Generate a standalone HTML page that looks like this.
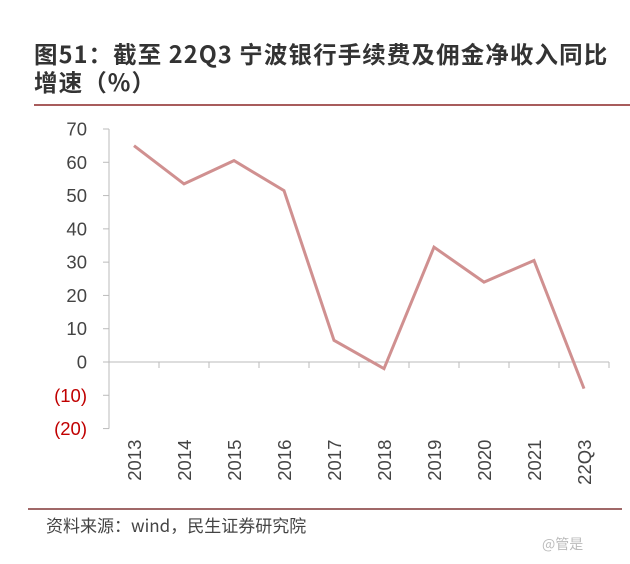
<!DOCTYPE html>
<html><head><meta charset="utf-8"><style>
body{margin:0;background:#fff;width:630px;height:564px;overflow:hidden;font-family:"Liberation Sans","Noto Sans CJK SC",sans-serif}
.t{position:absolute;left:34px;font-size:23.5px;font-weight:bold;color:#333;letter-spacing:1.1px;white-space:nowrap}
</style></head><body>
<div class="t" style="top:36px;font-family:'Noto Sans CJK SC',sans-serif">图51：截至 22Q3 宁波银行手续费及佣金净收入同比</div>
<div class="t" style="top:64px;font-family:'Noto Sans CJK SC',sans-serif">增速（%）</div>
<svg id="c" width="630" height="564" style="position:absolute;left:0;top:0">
<line x1="34" y1="105" x2="630" y2="105" stroke="#a85c5c" stroke-width="2"/>
<line x1="28" y1="509" x2="622" y2="509" stroke="#a06868" stroke-width="2"/>
<text x="46" y="532" font-size="17" fill="#444" font-family="'Noto Sans CJK SC',sans-serif">资料来源：wind，民生证券研究院</text>
<text x="542" y="549" font-size="14" fill="#bbb" font-family="'Noto Sans CJK SC',sans-serif">@管是</text>
</svg>
<script>
const categories=["2013","2014","2015","2016","2017","2018","2019","2020","2021","22Q3"];
const values=[65,53.5,60.5,51.5,6.5,-2,34.5,24,30.5,-8];
const yTicks=[70,60,50,40,30,20,10,0,-10,-20];
const yTickLabels=["70","60","50","40","30","20","10","0","(10)","(20)"];
const svg=document.getElementById('c');const NS='http://www.w3.org/2000/svg';
const L=109,W=500,Y0=362,PX=233/70;
const band=W/categories.length;
const x=i=>L+band*(i+0.5);
const y=v=>Y0-v*PX;
function mk(t,a){const e=document.createElementNS(NS,t);for(const k in a)e.setAttribute(k,a[k]);svg.appendChild(e);return e;}
let ax=mk('line',{x1:L,y1:y(70),x2:L,y2:y(-20),stroke:'#bbb','stroke-width':1});


yTicks.forEach((v,i)=>{
 let tk=mk('line',{x1:L-6,y1:y(v),x2:L,y2:y(v),stroke:'#bbb'});
 
 
 let t=mk('text',{x:L-22,y:y(v)+6.5,'text-anchor':'end','font-size':18.5,fill:v<0?'#c00000':'#444'});
 t.textContent=yTickLabels[i];
 
 
});
let xa=mk('line',{x1:L,y1:y(0),x2:L+W,y2:y(0),stroke:'#bbb'});


for(let i=1;i<=categories.length;i++){
 let tk=mk('line',{x1:L+band*i,y1:y(0),x2:L+band*i,y2:y(0)+6,stroke:'#bbb'});
 
 
}
categories.forEach((c,i)=>{
 let t=mk('text',{x:0,y:0,'font-size':18.5,fill:'#444','text-anchor':'end',transform:`translate(${x(i)+7},${y(-20)+11}) rotate(-90)`});
 t.textContent=c;
 
 
});
let ln=mk('polyline',{points:values.map((v,i)=>x(i)+','+y(v)).join(' '),fill:'none',stroke:'#d09090','stroke-width':3,'stroke-linejoin':'miter'});


</script>
</body></html>
